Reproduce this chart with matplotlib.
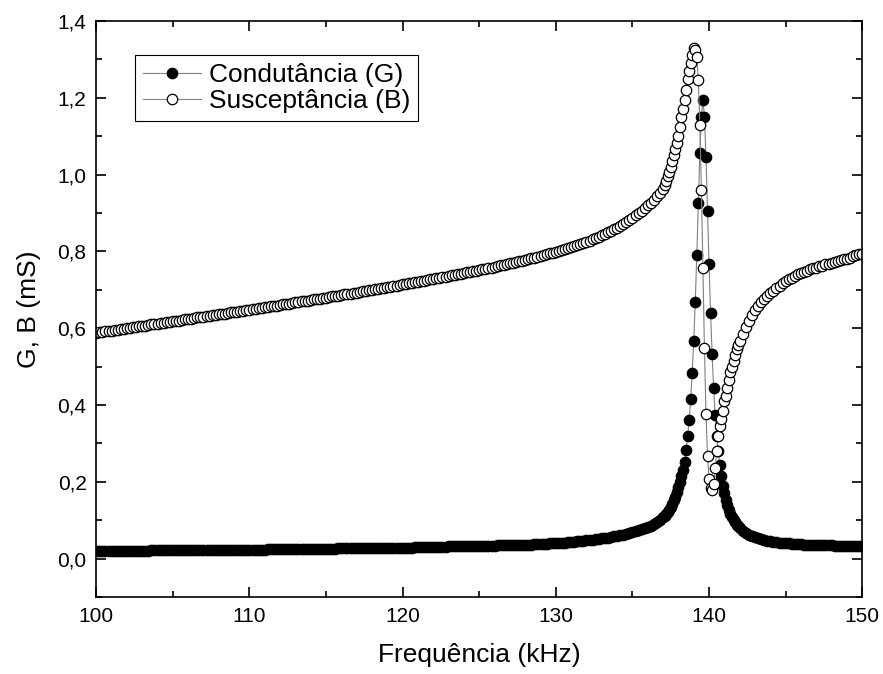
import numpy as np
import matplotlib
matplotlib.use("Agg")
from matplotlib import pyplot as plt
from matplotlib.ticker import MultipleLocator, FuncFormatter

plt.rcParams['font.family'] = ['Liberation Sans', 'DejaVu Sans']

# frequencias (kHz): passo 0,2 longe da ressonancia e 0,1 perto dela
f_baixa = np.round(np.arange(100, 137, 0.2), 1)
f_pico = np.round(np.arange(137, 142, 0.1), 1)
f_alta = np.round(np.arange(142, 150.01, 0.2), 1)

# Condutancia G (mS)
G_baixa = [
    .020, .020, .020, .020, .020,  .020, .021, .021, .021, .021,
    .021, .021, .021, .021, .021,  .021, .021, .021, .022, .022,
    .022, .022, .022, .022, .022,  .022, .022, .022, .022, .022,
    .022, .023, .023, .023, .023,  .023, .023, .023, .023, .023,
    .023, .023, .023, .024, .024,  .024, .024, .024, .024, .024,
    .024, .024, .024, .024, .024,  .024, .025, .025, .025, .025,
    .025, .025, .025, .025, .025,  .025, .025, .025, .026, .026,
    .026, .026, .026, .026, .026,  .026, .026, .026, .026, .027,
    .027, .027, .027, .027, .027,  .027, .027, .027, .028, .028,
    .028, .028, .028, .028, .028,  .028, .028, .029, .029, .029,
    .029, .029, .029, .029, .030,  .030, .030, .030, .030, .031,
    .031, .031, .031, .031, .031,  .032, .032, .032, .032, .032,
    .033, .033, .033, .033, .033,  .033, .034, .034, .034, .034,
    .034, .035, .035, .035, .035,  .035, .036, .036, .036, .036,
    .037, .037, .037, .038, .038,  .039, .039, .039, .040, .040,
    .041, .041, .042, .042, .043,  .044, .044, .045, .046, .047,
    .048, .049, .050, .051, .052,  .053, .054, .055, .057, .058,
    .060, .061, .063, .065, .067,  .069, .071, .074, .077, .080,
    .083, .086, .090, .095, .101,
]
G_pico = [
    .108, .112, .117, .122, .128, .135, .143, .152, .162, .174,
    .187, .200, .215, .232, .252, .283, .319, .361, .416, .483,
    .566, .668, .790, .927, 1.057, 1.150, 1.195, 1.150, 1.047, .906,
    .766, .639, .532, .444, .374, .320, .280, .245, .215, .190,
    .170, .153, .139, .127, .117, .108, .101, .095, .089, .084,
]
G_alta = [
    .080, .073, .067, .063, .059,  .056, .053, .051, .049, .047,
    .046, .044, .043, .042, .041,  .040, .040, .039, .039, .038,
    .038, .037, .037, .037, .036,  .036, .036, .035, .035, .035,
    .035, .034, .034, .034, .034,  .034, .033, .033, .033, .033,
    .033,
]

# Susceptancia B (mS)
B_baixa = [
    .588, .589, .590, .592, .593,  .594, .595, .596, .598, .599,
    .600, .601, .602, .604, .605,  .606, .607, .608, .610, .611,
    .612, .613, .614, .616, .617,  .618, .619, .620, .622, .623,
    .624, .625, .626, .628, .629,  .630, .631, .632, .634, .635,
    .636, .637, .638, .640, .641,  .642, .643, .644, .646, .647,
    .648, .649, .650, .652, .653,  .654, .655, .657, .658, .659,
    .661, .662, .663, .664, .666,  .667, .668, .670, .671, .672,
    .673, .675, .676, .677, .679,  .680, .681, .683, .684, .685,
    .686, .688, .689, .690, .692,  .693, .694, .696, .697, .699,
    .700, .701, .703, .704, .706,  .707, .708, .710, .711, .713,
    .714, .715, .717, .718, .720,  .721, .722, .724, .725, .727,
    .728, .730, .731, .733, .734,  .736, .738, .739, .741, .742,
    .744, .746, .747, .749, .750,  .752, .754, .755, .757, .758,
    .760, .762, .764, .765, .767,  .769, .771, .773, .775, .776,
    .778, .780, .782, .784, .786,  .788, .790, .792, .795, .797,
    .799, .801, .804, .806, .809,  .811, .814, .816, .819, .822,
    .825, .828, .831, .835, .838,  .842, .846, .850, .854, .858,
    .862, .867, .872, .877, .882,  .888, .894, .900, .906, .913,
    .920, .927, .935, .944, .953,
]
B_pico = [
    .962, .972, .983, .995, 1.007, 1.020, 1.035, 1.050, 1.066, 1.083,
    1.100, 1.125, 1.150, 1.170, 1.195, 1.220, 1.250, 1.270, 1.290, 1.310,
    1.330, 1.325, 1.305, 1.245, 1.130, .960, .756, .548, .377, .267,
    .208, .185, .180, .195, .235, .280, .320, .345, .365, .385,
    .410, .424, .445, .466, .486, .500, .515, .530, .545, .556,
]
B_alta = [
    .567, .584, .602, .620, .635,  .648, .658, .668, .677, .685,
    .692, .698, .705, .711, .717,  .722, .727, .732, .736, .740,
    .743, .746, .750, .753, .756,  .758, .761, .763, .766, .768,
    .770, .772, .774, .777, .779,  .781, .784, .787, .790, .792,
    .794,
]

freq = np.concatenate([f_baixa, f_pico, f_alta])
G = np.concatenate([G_baixa, G_pico, G_alta])
B = np.concatenate([B_baixa, B_pico, B_alta])

fig = plt.figure(figsize=(8.83, 6.74), dpi=100)
ax = fig.add_axes([0.109, 0.114, 0.8675, 0.855])

ax.plot(freq, G, '-o', color='#808080', lw=0.8, ms=7.5, mfc='black', mec='black',
        mew=0.9, label='Condutância (G)')
ax.plot(freq, B, '-o', color='#808080', lw=0.8, ms=7.5, mfc='white', mec='black',
        mew=0.9, label='Susceptância (B)')

ax.set_xlim(100, 150)
ax.set_ylim(-0.1, 1.4)
ax.xaxis.set_major_locator(MultipleLocator(10))
ax.xaxis.set_minor_locator(MultipleLocator(5))
ax.yaxis.set_major_locator(MultipleLocator(0.2))
ax.yaxis.set_minor_locator(MultipleLocator(0.1))
ax.xaxis.set_major_formatter(FuncFormatter(lambda v, p: '%d' % round(v)))
ax.yaxis.set_major_formatter(FuncFormatter(lambda v, p: ('%.1f' % v).replace('.', ',').replace('-0,0', '0,0')))

ax.tick_params(which='both', direction='in', top=True, right=True, width=1.2, labelsize=15)
ax.tick_params(which='major', length=7, pad=7)
ax.tick_params(which='minor', length=4)
for s in ax.spines.values():
    s.set_linewidth(1.2)

ax.set_xlabel('Frequência (kHz)', fontsize=19, labelpad=12)
ax.set_ylabel('G, B (mS)', fontsize=19, labelpad=12)

leg = ax.legend(loc='upper left', bbox_to_anchor=(0.051, 0.941), borderaxespad=0,
                fontsize=19, handlelength=2.2, handletextpad=0.3, labelspacing=0.1,
                borderpad=0.3, fancybox=False, framealpha=1, edgecolor='black')
leg.get_frame().set_linewidth(0.8)

fig.savefig('out.png', dpi=100)
